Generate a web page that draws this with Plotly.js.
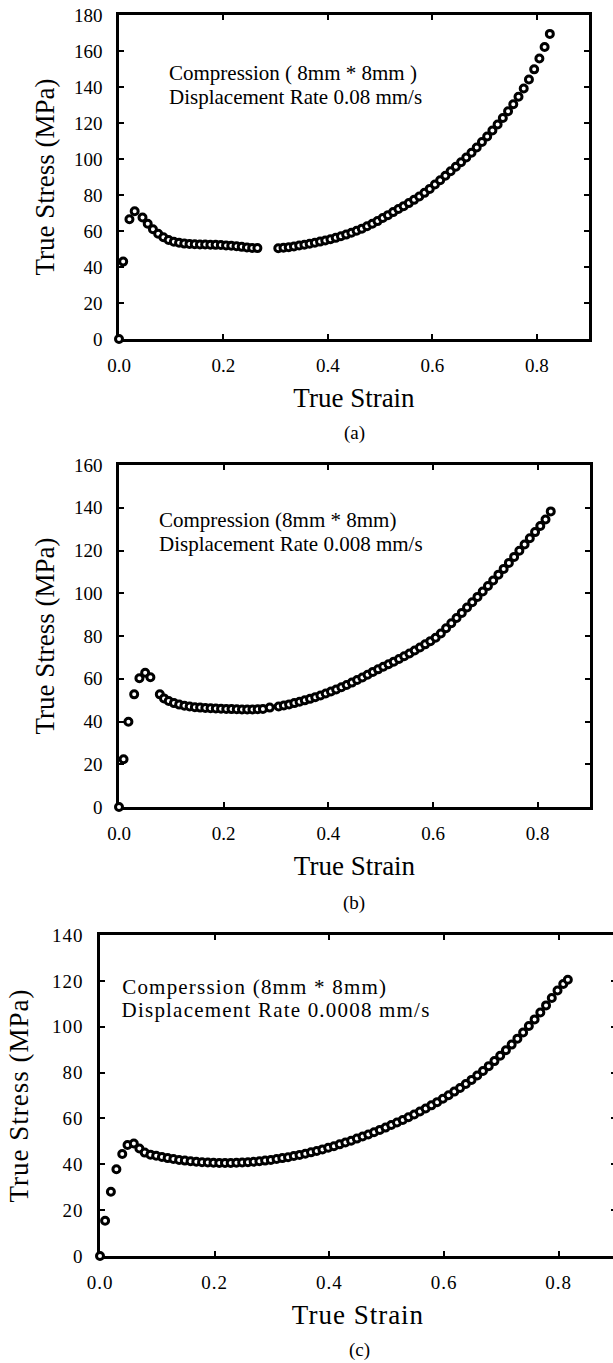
<!DOCTYPE html>
<html>
<head>
<meta charset="utf-8">
<script src="https://cdn.plot.ly/plotly-3.0.1.min.js"></script>
<style>
html,body{margin:0;padding:0;background:#fff;overflow:hidden;}
#wrap{width:613px;height:1363px;overflow:hidden;position:relative;}
#chart{width:625px;height:1363px;}
.x3tick text, .y3tick text, text.x3title, text.y3title {letter-spacing:1px;}
.annotation[data-index="4"] text, .annotation[data-index="5"] text {letter-spacing:1.2px;}
</style>
</head>
<body>
<div id="wrap"><div id="chart"></div></div>
<script>
// ---- Data ----
// (a) Compression 8mm*8mm, displacement rate 0.08 mm/s
const strainA = [0,0.008,0.02,0.03,0.045,0.055,0.065,0.075,0.085,0.095,0.105,0.115,0.125,0.135,0.145,0.155,0.165,0.175,0.185,0.195,0.205,0.215,0.225,0.235,0.245,0.255,0.265,
0.305,0.315,0.325,0.335,0.345,0.355,0.365,0.375,0.385,0.395,0.405,0.415,0.425,0.435,0.445,0.455,0.465,0.475,0.485,0.495,0.505,0.515,0.525,0.535,0.545,0.555,0.565,0.575,0.585,0.595,0.605,0.615,0.625,0.635,0.645,0.655,0.665,0.675,0.685,0.695,0.705,0.715,0.725,0.735,0.745,0.755,0.765,0.775,0.785,0.795,0.805,0.815,0.825];
const stressA = [0,43,66.5,71,67.5,64,61,58.5,56.5,55,54,53.5,53,52.8,52.6,52.5,52.5,52.4,52.3,52.2,52,51.8,51.5,51.2,50.9,50.6,50.5,
50.4,50.7,51.0,51.4,51.9,52.4,52.9,53.5,54.1,54.7,55.4,56.2,57.1,58.0,59.0,60.1,61.3,62.6,64.0,65.5,67.2,68.8,70.5,72.2,73.8,75.5,77.3,79.2,81.2,83.4,85.8,88.2,90.7,93.2,95.7,98.2,100.8,103.5,106.4,109.4,112.5,115.8,119.2,122.8,126.5,130.4,134.6,139.2,144.2,149.8,155.8,162.2,169.5];

// (b) Compression 8mm*8mm, displacement rate 0.008 mm/s
const strainB = [0,0.0087,0.018,0.029,0.039,0.05,0.06,0.078,0.086,0.095,0.105,0.115,0.125,0.135,0.145,0.155,0.165,0.175,0.185,0.195,0.205,0.215,0.225,0.235,0.245,0.255,0.265,0.275,0.288,0.305,0.315,0.325,0.335,0.345,0.355,0.365,0.375,0.385,0.395,0.405,0.415,0.425,0.435,0.445,0.455,0.465,0.475,0.485,0.495,0.505,0.515,0.525,0.535,0.545,0.555,0.565,0.575,0.585,0.595,0.605,0.615,0.625,0.635,0.645,0.655,0.665,0.675,0.685,0.695,0.705,0.715,0.725,0.735,0.745,0.755,0.765,0.775,0.785,0.795,0.805,0.815,0.825];
const stressB = [0,22.3,39.9,52.7,60.2,62.8,60.7,52.7,50.8,49.6,48.6,47.9,47.4,47.0,46.7,46.5,46.3,46.2,46.1,46.0,45.9,45.8,45.7,45.6,45.6,45.6,45.7,45.9,46.5,47.0,47.5,48.0,48.6,49.2,49.9,50.6,51.4,52.2,53.1,54.0,55.0,56.0,57.1,58.2,59.4,60.6,61.9,63.2,64.4,65.6,66.8,68.0,69.2,70.5,71.8,73.2,74.6,76.1,77.6,79.2,81.2,83.6,86.0,88.4,90.8,93.3,95.8,98.3,100.8,103.4,106.0,108.7,111.4,114.2,117.0,119.9,122.8,125.7,128.6,131.5,134.5,138.3];

// (c) Comperssion 8mm*8mm, displacement rate 0.0008 mm/s
const strainC = [0,0.0089,0.019,0.0286,0.0388,0.048,0.059,0.0687,0.078,0.088,0.098,0.108,0.118,0.128,0.138,0.148,0.158,0.168,0.178,0.188,0.198,0.208,0.218,0.228,0.238,0.248,0.258,0.268,0.278,0.288,0.298,0.308,0.318,0.328,0.338,0.348,0.358,0.368,0.378,0.388,0.398,0.408,0.418,0.428,0.438,0.448,0.458,0.468,0.478,0.488,0.498,0.508,0.518,0.528,0.538,0.548,0.558,0.568,0.578,0.588,0.598,0.608,0.618,0.628,0.638,0.648,0.658,0.668,0.678,0.688,0.698,0.708,0.718,0.728,0.738,0.748,0.758,0.768,0.778,0.788,0.798,0.808,0.816];
const stressC = [0,15.4,28.0,37.8,44.5,48.4,49.1,46.9,45.1,44.2,43.7,43.2,42.7,42.3,41.9,41.6,41.3,41.1,40.9,40.8,40.7,40.6,40.6,40.6,40.7,40.8,40.9,41.1,41.3,41.6,41.9,42.3,42.7,43.1,43.6,44.1,44.6,45.2,45.8,46.5,47.2,47.9,48.7,49.5,50.3,51.2,52.1,53.0,54.0,55.0,56.0,57.1,58.2,59.3,60.5,61.7,63.0,64.3,65.7,67.1,68.6,70.1,71.7,73.3,75.0,76.8,78.7,80.7,82.8,85.0,87.3,89.7,92.2,94.8,97.5,100.3,103.2,106.2,109.3,112.5,115.8,118.6,120.5];

const xTickVals = [0,0.2,0.4,0.6,0.8];
const xTickText = ['0.0','0.2','0.4','0.6','0.8'];
const xTitle = 'True Strain';
const yTitle = 'True Stress (MPa)';
const panelLabels = ['(a)','(b)','(c)'];
const noteLines = [
  ['Compression ( 8mm * 8mm )','Displacement Rate 0.08 mm/s'],
  ['Compression (8mm * 8mm)','Displacement Rate 0.008 mm/s'],
  ['Comperssion (8mm * 8mm)','Displacement Rate 0.0008 mm/s']
];
const yMax = [180,160,140];

// ---- Styling / layout ----
const FONT = '"Liberation Serif", "Times New Roman", serif';
const W = 625, H = 1363;
const marker = {symbol:'circle', size:7, color:'#ffffff', line:{color:'#000000', width:3}};

function trace(x, y, n){
  return {x:x, y:y, type:'scatter', mode:'markers', marker:marker,
          xaxis: n===1?'x':'x'+n, yaxis: n===1?'y':'y'+n, cliponaxis:false, hoverinfo:'x+y'};
}

function xax(domain, anchor){
  return {domain:domain, anchor:anchor, range:[0,0.9], tickvals:xTickVals, ticktext:xTickText,
    showline:true, linewidth:2.5, linecolor:'#000', mirror:'ticks', ticks:'inside', ticklen:5, tickwidth:1.5, tickcolor:'#000',
    showgrid:false, zeroline:false, tickfont:{family:FONT,size:19,color:'#000'}, ticklabelstandoff:7,
    title:{text:xTitle, font:{family:FONT,size:27,color:'#000'}, standoff:14}, layer:'below traces', fixedrange:true};
}
function yax(domain, anchor, ymax){
  return {domain:domain, anchor:anchor, range:[0,ymax], dtick:20, tick0:0,
    showline:true, linewidth:2.5, linecolor:'#000', mirror:'ticks', ticks:'inside', ticklen:5, tickwidth:1.5, tickcolor:'#000',
    showgrid:false, zeroline:false, tickfont:{family:FONT,size:19,color:'#000'}, ticklabelstandoff:10,
    title:{text:yTitle, font:{family:FONT,size:27,color:'#000'}, standoff:12}, layer:'below traces', fixedrange:true};
}
function px(v){return v/W;}
function py(top, bottom){return [1-bottom/H, 1-top/H];}

const layout = {
  width:W, height:H, margin:{l:0,r:0,t:0,b:0}, paper_bgcolor:'#fff', plot_bgcolor:'#fff', showlegend:false,
  font:{family:FONT, color:'#000'},
  xaxis: xax([px(119),px(589)],'y'),  yaxis: yax(py(15,339),'x',yMax[0]),
  xaxis2:xax([px(119),px(590)],'y2'), yaxis2:yax(py(465,807),'x2',yMax[1]),
  xaxis3:xax([px(100),px(616)],'y3'), yaxis3:yax(py(935,1256),'x3',yMax[2]),
  annotations:[]
};
layout.yaxis3.title.standoff = 16;

const notePos = [
  {x:[0.091,0.091], y:[148,134.6], ax:'x', ay:'y'},
  {x:[0.0726,0.0726], y:[134.3,122.9], ax:'x2', ay:'y2'},
  {x:[0.0589,0.0653], y:[117.5,107.3], ax:'x3', ay:'y3'}
];
notePos.forEach((p,i)=>{
  noteLines[i].forEach((t,j)=>{
    layout.annotations.push({text:t, x:p.x[j], y:p.y[j], xref:p.ax, yref:p.ay, xanchor:'left', yanchor:'middle',
      showarrow:false, font:{family:FONT,size:21,color:'#000'}});
  });
});
const labelY = [433, 903, 1350];
const labelX = [354, 354, 359];
panelLabels.forEach((t,i)=>{
  layout.annotations.push({text:t, x:labelX[i]/W, y:1-labelY[i]/H, xref:'paper', yref:'paper', xanchor:'center', yanchor:'middle',
    showarrow:false, font:{family:FONT,size:19,color:'#000'}});
});

const data = [trace(strainA,stressA,1), trace(strainB,stressB,2), trace(strainC,stressC,3)];
Plotly.newPlot('chart', data, layout, {displayModeBar:false});
</script>
</body>
</html>
